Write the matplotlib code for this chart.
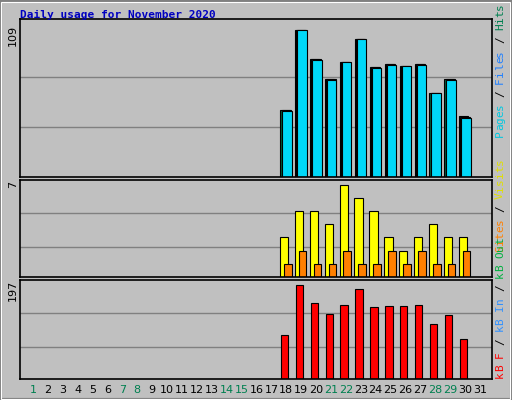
import matplotlib
matplotlib.use("Agg")
import matplotlib.pyplot as plt
from matplotlib.patches import Rectangle
import numpy as np

days = list(range(1, 32))
weekend = [1, 7, 8, 14, 15, 21, 22, 28, 29]
data_days = list(range(18, 31))
pages = [49, 109, 87, 72, 85, 102, 81, 83, 82, 83, 62, 72, 44]
files = [50, 109, 87.5, 72.5, 85.5, 102.5, 81.5, 83.5, 82.5, 83.5, 62.5, 72.5, 44.5]
hits = [50, 109, 87.5, 72.5, 85.5, 102.5, 81.5, 83.5, 82.5, 83.5, 62.5, 72.5, 45]
visits = [3, 5, 5, 4, 7, 6, 5, 3, 2, 3, 4, 3, 3]
sites = [1, 2, 1, 1, 2, 1, 1, 2, 1, 2, 1, 1, 2]
kbytes = [92, 197, 159, 135, 155, 187, 149, 151, 151, 153, 115, 134, 82]

BG = "#C0C0C0"
W, H = 512, 400
fig = plt.figure(figsize=(5.12, 4.0), dpi=100, facecolor=BG)
fig.patches.append(Rectangle((0, 0), 1, 1, transform=fig.transFigure, fill=False,
                             edgecolor="#808080", lw=3))
fig.patches.append(Rectangle((1/W, 1/H), 1-3/W, 1-3/H, transform=fig.transFigure, fill=False,
                             edgecolor="#ffffff", lw=0.8))
x = np.array(data_days, dtype=float)
xlim = (0.13, 31.8)

def mkax(top, bottom):
    ax = fig.add_axes([20/W, 1-bottom/H, 472/W, (bottom-top)/H])
    ax.set_facecolor(BG)
    ax.set_xlim(*xlim)
    ax.set_xticks([]); ax.set_yticks([])
    for s in ax.spines.values():
        s.set_color("black"); s.set_linewidth(1.2)
    return ax

# top panel: px per unit 147/109
ax1 = mkax(19, 177)
k1 = 147/109
ax1.set_ylim(0, 158/k1)
for gy in (76.7, 127):
    ax1.axhline((177-gy)/k1, color="#808080", lw=1, zorder=0)
ax1.bar(x-0.4, hits, width=0.62, align="edge", color="#006040", edgecolor="black", lw=0.8)
ax1.bar(x-0.32, files, width=0.62, align="edge", color="#0050ff", edgecolor="black", lw=0.8)
ax1.bar(x-0.26, pages, width=0.62, align="edge", color="#00D8F8", edgecolor="black", lw=0.8)

# middle panel
ax2 = mkax(180, 277)
k2 = 92.3/7
ax2.set_ylim(0, 97/k2)
for gy in (213.3, 246.7):
    ax2.axhline((277-gy)/k2, color="#808080", lw=1, zorder=0)
ax2.bar(x-0.43, visits, width=0.56, align="edge", color="#FFFF00", edgecolor="black", lw=0.8)
ax2.bar(x-0.17, sites, width=0.52, align="edge", color="#FF8000", edgecolor="black", lw=0.8)

# bottom panel
ax3 = mkax(280, 378.5)
k3 = 94/197
ax3.set_ylim(0, 98.5/k3)
for gy in (313.3, 346.7):
    ax3.axhline((378.5-gy)/k3, color="#808080", lw=1, zorder=0)
ax3.bar(x-0.37, kbytes, width=0.5, align="edge", color="#FF0000", edgecolor="black", lw=0.8)

# day labels
for d in days:
    px = 33 + (d-1)*14.9
    fig.text(px/W, 1-390/H, str(d), ha="center", va="center", fontsize=8,
             color="#008050" if d in weekend else "black", family="DejaVu Sans")

fig.text(20/W, 1-15/H, "Daily usage for November 2020", ha="left", va="center",
         fontsize=8, fontweight="bold", color="#0000C0", family="DejaVu Sans Mono")

# left max labels
for txt, yc in (("109", 35), ("7", 184), ("197", 290)):
    fig.text(13/W, 1-yc/H, txt, rotation=90, ha="center", va="center", fontsize=8,
             family="DejaVu Sans")

# right rotated multi-colour labels (monospace, bottom-to-top)
adv = 0.602*8*100/72
def vlabel(pieces, ybottom):
    y = ybottom
    for t, c in pieces:
        for ch in t:
            fig.text(500/W, 1-(y-adv/2)/H, ch, rotation=90, ha="center", va="center",
                     fontsize=8, color=c, family="DejaVu Sans Mono")
            y -= adv

vlabel([("Pages", "#00C8E0"), (" / ", "black"), ("Files", "#2080FF"),
        (" / ", "black"), ("Hits", "#008050")], 137)
vlabel([("Sites", "#FF8000"), (" / ", "black"), ("Visits", "#E0E000")], 252)
vlabel([("kB F", "#FF0000"), (" / ", "black"), ("kB In", "#3090FF"),
        (" / ", "black"), ("kB Out", "#00B040")], 378)

fig.savefig("out.png", dpi=100, facecolor=BG)
